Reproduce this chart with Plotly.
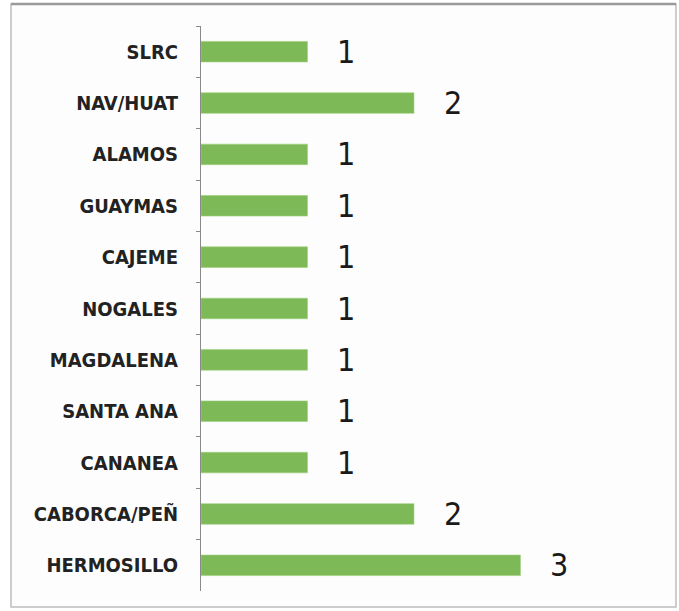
import plotly.graph_objects as go

# datos (de arriba hacia abajo)
municipios = ["SLRC", "NAV/HUAT", "ALAMOS", "GUAYMAS", "CAJEME", "NOGALES",
              "MAGDALENA", "SANTA ANA", "CANANEA", "CABORCA/PEÑ", "HERMOSILLO"]
casos = [1, 2, 1, 1, 1, 1, 1, 1, 1, 2, 3]

FUENTE = "DejaVu Sans Condensed, Liberation Sans Narrow, sans-serif"
W, H = 679, 611
ML, MR, MT, MB = 201, 18, 26, 20

fig = go.Figure()

fig.add_trace(
    go.Bar(
        x=casos,
        y=municipios,
        orientation="h",
        marker=dict(
            color="#7db957",
            line=dict(color="#9fd07c", width=0.6),
        ),
        showlegend=False,
        hoverinfo="x+y",
    )
)

# etiquetas de valor
for m, v in zip(municipios, casos):
    fig.add_annotation(
        x=v,
        y=m,
        text=str(v),
        showarrow=False,
        xanchor="center",
        yanchor="middle",
        xshift=39,
        font=dict(family=FUENTE, size=32, color="#1a1a1a"),
    )

# marco alrededor de la figura (en pixeles -> coordenadas paper)
pw = W - ML - MR
ph = H - MT - MB
def px_x(p):
    return (p - ML) / pw
def px_y(p):
    return (H - MB - p) / ph

fig.add_shape(
    type="rect",
    xref="paper", yref="paper",
    x0=px_x(11), x1=px_x(676),
    y0=px_y(607), y1=px_y(4),
    line=dict(color="#bdbdbd", width=1.5),
    fillcolor="#fdfdfd",
    layer="below",
)
fig.add_shape(
    type="line",
    xref="paper", yref="paper",
    x0=px_x(11), x1=px_x(676),
    y0=px_y(4), y1=px_y(4),
    line=dict(color="#9a9a9a", width=2.5),
)

fig.update_layout(
    width=W,
    height=H,
    bargap=0.6,
    plot_bgcolor="rgba(0,0,0,0)",
    paper_bgcolor="white",
    margin=dict(l=ML, r=MR, t=MT, b=MB),
    font=dict(family=FUENTE),
)

fig.update_xaxes(
    range=[0, 4.32],
    visible=False,
    showgrid=False,
    zeroline=False,
)

fig.update_yaxes(
    autorange="reversed",
    showline=True,
    linecolor="#8a8a8a",
    linewidth=1,
    ticks="outside",
    tickson="boundaries",
    ticklen=4,
    tickcolor="#8a8a8a",
    ticklabelstandoff=18,
    showgrid=False,
    tickfont=dict(family=FUENTE, size=20, color="#222222", weight="bold"),
)

# sin margen del body para que la figura quede en (0,0)
fig.write_html(
    "out.html",
    config={"displayModeBar": False},
    post_script="document.body.style.margin='0';document.body.style.overflow='hidden';",
)
